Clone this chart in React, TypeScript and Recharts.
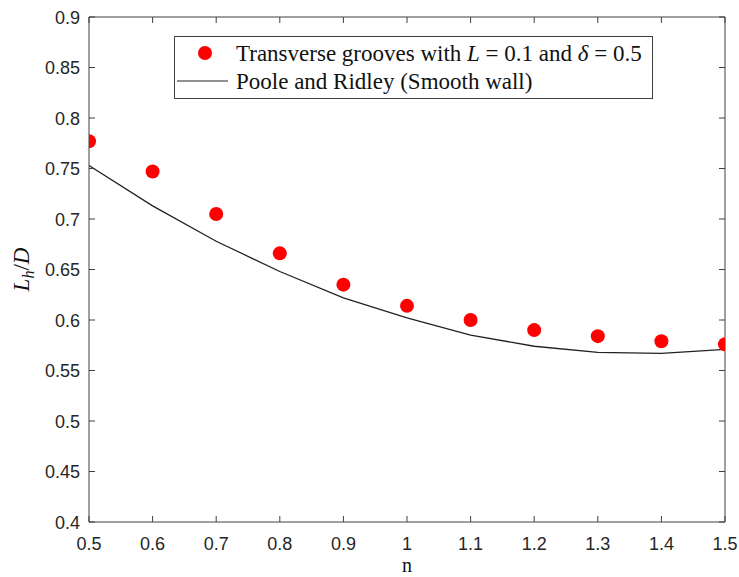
import React from "react";
import {
  ComposedChart,
  Line,
  Scatter,
  XAxis,
  YAxis,
  Legend,
} from "recharts";

const N_VALUES = [0.5, 0.6, 0.7, 0.8, 0.9, 1.0, 1.1, 1.2, 1.3, 1.4, 1.5];
const GROOVES = [0.777, 0.747, 0.705, 0.666, 0.635, 0.614, 0.6, 0.59, 0.584, 0.579, 0.576];
const POOLE = [0.753, 0.713, 0.678, 0.648, 0.622, 0.602, 0.585, 0.574, 0.568, 0.567, 0.571];
const X_TICKS = [0.5, 0.6, 0.7, 0.8, 0.9, 1, 1.1, 1.2, 1.3, 1.4, 1.5];
const Y_TICKS = [0.4, 0.45, 0.5, 0.55, 0.6, 0.65, 0.7, 0.75, 0.8, 0.85, 0.9];
const SERIES_GROOVES = "Transverse grooves with L = 0.1 and δ = 0.5";
const SERIES_POOLE = "Poole and Ridley (Smooth wall)";

const data = N_VALUES.map((n, i) => ({ n, grooves: GROOVES[i], poole: POOLE[i] }));

const AXIS = "#404040";
const TICK_TEXT = "#262626";
const SANS = '"Liberation Sans", Arial, sans-serif';
const SERIF = '"Liberation Serif", "Times New Roman", serif';
const TL = 6;

const fmt = (v: number) => String(Number(v.toFixed(2)));

const BottomTick = (p: any) => (
  <g>
    <line x1={p.x} x2={p.x} y1={p.y} y2={p.y - TL} stroke={AXIS} strokeWidth={1} />
    <text x={p.x} y={p.y + 28} textAnchor="middle" fontFamily={SANS} fontSize={18} fill={TICK_TEXT}>
      {fmt(p.payload.value)}
    </text>
  </g>
);
const TopTick = (p: any) => (
  <line x1={p.x} x2={p.x} y1={p.y} y2={p.y + TL} stroke={AXIS} strokeWidth={1} />
);
const LeftTick = (p: any) => (
  <g>
    <line x1={p.x} x2={p.x + TL} y1={p.y} y2={p.y} stroke={AXIS} strokeWidth={1} />
    <text x={p.x - 9} y={p.y + 6.5} textAnchor="end" fontFamily={SANS} fontSize={18} fill={TICK_TEXT}>
      {fmt(p.payload.value)}
    </text>
  </g>
);
const RightTick = (p: any) => (
  <line x1={p.x} x2={p.x - TL} y1={p.y} y2={p.y} stroke={AXIS} strokeWidth={1} />
);

const Dot = (p: any) => <circle cx={p.cx} cy={p.cy} r={7} fill="#ff0000" />;

const YLabel = (p: any) => {
  const vb = p.viewBox || {};
  const cx = 29;
  const cy = (vb.y ?? 17) + (vb.height ?? 505) / 2;
  return (
    <text
      x={cx}
      y={cy}
      transform={`rotate(-90 ${cx} ${cy})`}
      textAnchor="middle"
      fontFamily={SERIF}
      fontSize={23}
      fill="#111"
    >
      <tspan fontStyle="italic">L</tspan>
      <tspan fontStyle="italic" fontSize={16} dy={5}>h</tspan>
      <tspan dy={-5}>/</tspan>
      <tspan fontStyle="italic">D</tspan>
    </text>
  );
};

const XLabel = (p: any) => {
  const vb = p.viewBox || {};
  const cx = (vb.x ?? 89) + (vb.width ?? 636) / 2;
  return (
    <text x={cx} y={572} textAnchor="middle" fontFamily={SERIF} fontSize={20} fill="#111">
      n
    </text>
  );
};

const LegendBox = () => (
  <div
    style={{
      width: 479,
      height: 63,
      boxSizing: "border-box",
      border: `1px solid ${AXIS}`,
      background: "#fff",
    }}
  >
    <svg width={477} height={61} style={{ display: "block" }}>
      <circle cx={30} cy={16} r={7} fill="#ff0000" />
      <line x1={2} x2={53} y1={44} y2={44} stroke="#222" strokeWidth={1.2} />
      <text x={61} y={24} fontFamily={SERIF} fontSize={23} fill="#111">
        <tspan>Transverse grooves with </tspan>
        <tspan fontStyle="italic">L</tspan>
        <tspan> = 0.1 and </tspan>
        <tspan fontStyle="italic">δ</tspan>
        <tspan> = 0.5</tspan>
      </text>
      <text x={61} y={52} fontFamily={SERIF} fontSize={23} fill="#111">
        {SERIES_POOLE}
      </text>
    </svg>
  </div>
);

export default function App() {
  return (
    <div style={{ position: "absolute", left: 0, top: 0, width: 739, height: 577, background: "#fff" }}>
      <ComposedChart width={739} height={577} data={data} margin={{ top: 0, right: 0, bottom: 0, left: 0 }}>
        <XAxis
          xAxisId="bottom"
          dataKey="n"
          type="number"
          domain={[0.5, 1.5]}
          ticks={X_TICKS}
          orientation="bottom"
          height={55}
          tickSize={0}
          tickMargin={0}
          tickLine={false}
          axisLine={{ stroke: AXIS, strokeWidth: 1 }}
          tick={<BottomTick />}
          interval={0}
          allowDataOverflow
          label={<XLabel />}
        />
        <XAxis
          xAxisId="top"
          dataKey="n"
          type="number"
          domain={[0.5, 1.5]}
          ticks={X_TICKS}
          orientation="top"
          height={17}
          tickSize={0}
          tickMargin={0}
          tickLine={false}
          axisLine={{ stroke: AXIS, strokeWidth: 1 }}
          tick={<TopTick />}
          interval={0}
          allowDataOverflow
        />
        <YAxis
          yAxisId="left"
          type="number"
          domain={[0.4, 0.9]}
          ticks={Y_TICKS}
          orientation="left"
          width={89}
          tickSize={0}
          tickMargin={0}
          tickLine={false}
          axisLine={{ stroke: AXIS, strokeWidth: 1 }}
          tick={<LeftTick />}
          interval={0}
          allowDataOverflow
          label={<YLabel />}
        />
        <YAxis
          yAxisId="right"
          type="number"
          domain={[0.4, 0.9]}
          ticks={Y_TICKS}
          orientation="right"
          width={14}
          tickSize={0}
          tickMargin={0}
          tickLine={false}
          axisLine={{ stroke: AXIS, strokeWidth: 1 }}
          tick={<RightTick />}
          interval={0}
          allowDataOverflow
        />
        <Line
          xAxisId="bottom"
          yAxisId="left"
          dataKey="poole"
          name={SERIES_POOLE}
          type="linear"
          stroke="#222"
          strokeWidth={1.3}
          dot={false}
          activeDot={false}
          isAnimationActive={false}
        />
        <Scatter
          xAxisId="bottom"
          yAxisId="left"
          dataKey="grooves"
          name={SERIES_GROOVES}
          fill="#ff0000"
          shape={<Dot />}
          isAnimationActive={false}
        />
        <Legend
          layout="horizontal"
          verticalAlign="middle"
          align="center"
          content={<LegendBox />}
          wrapperStyle={{ position: "absolute", left: 174, top: 36, width: 479, height: 63 }}
        />
      </ComposedChart>
    </div>
  );
}
